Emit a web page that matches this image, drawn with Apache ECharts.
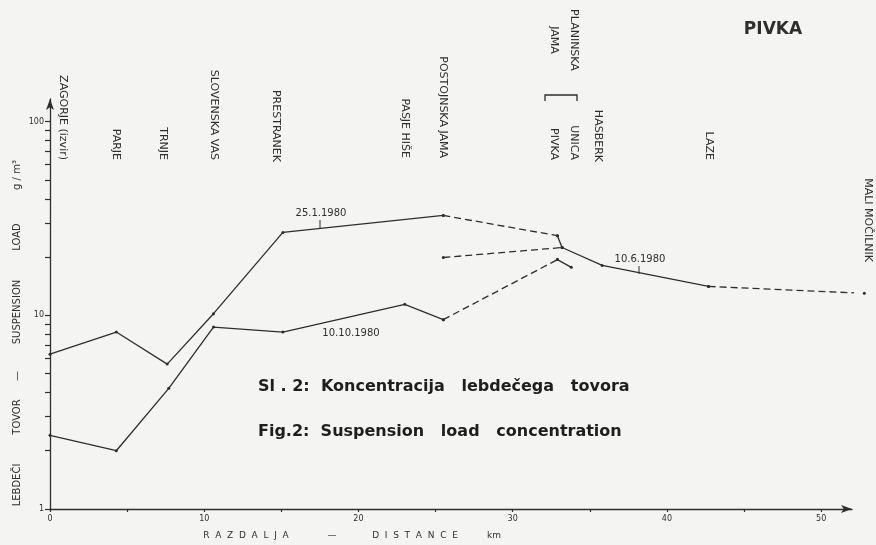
<!DOCTYPE html>
<html>
<head>
<meta charset="utf-8">
<script src="https://cdn.jsdelivr.net/npm/echarts@6/dist/echarts.min.js"></script>
<style>
  html, body { margin: 0; padding: 0; background: #f4f4f2; }
  #chart { width: 876px; height: 545px; }
</style>
</head>
<body>
<div id="chart"></div>
<script>
// stations along the Pivka (km from the source)
const stations = ['ZAGORJE (izvir)', 'PARJE', 'TRNJE', 'SLOVENSKA VAS', 'PRESTRANEK', 'PASJE HIŠE',
  'POSTOJNSKA JAMA', 'PLANINSKA\nJAMA', 'UNICA\nPIVKA', 'HASBERK', 'LAZE', 'MALI MOČILNIK'];
const stationKm = [0, 4.3, 7.6, 10.6, 15.1, 23.0, 25.5, 33.3, 33.3, 35.8, 42.7, 52.8];

// suspension load g/m3, [km, value]
const jan1980 = [[0, 6.3], [4.3, 8.2], [7.6, 5.6], [10.6, 10.2], [15.1, 26.8], [25.5, 32.8]];
const jan1980Cave = [[25.5, 32.8], [32.9, 25.8]];
const jan1980End = [[32.9, 25.8], [33.2, 22.4]];
const jun1980Cave = [[25.5, 19.9], [33.2, 22.4]];
const jun1980 = [[33.2, 22.4], [35.8, 18.1], [42.7, 14.1]];
const jun1980Tail = [[42.7, 14.1], [52.8, 13.0]];
const oct1980 = [[0, 2.4], [4.3, 2.0], [7.7, 4.2], [10.6, 8.7], [15.1, 8.2], [23.0, 11.4], [25.5, 9.5]];
const oct1980Cave = [[25.5, 9.5], [32.9, 19.4]];
const oct1980End = [[32.9, 19.4], [33.8, 17.7]];

// axis ticks
const xTicks = [0, 5, 10, 15, 20, 25, 30, 35, 40, 45, 50];
const xLabels = [0, 10, 20, 30, 40, 50];
const yTicks = [1, 2, 3, 4, 5, 6, 7, 8, 9, 10, 20, 30, 40, 50, 60, 70, 80, 90, 100];
const yLabels = [1, 10, 100];

const ink = '#2e2e2e';

const chart = echarts.init(document.getElementById('chart'));

const lineSeries = (data, dashed) => ({
  type: 'line',
  data: data,
  symbol: 'circle',
  symbolSize: 3,
  clip: false,
  silent: true,
  itemStyle: { color: ink },
  lineStyle: { color: ink, width: 1.3, type: dashed ? [7, 4] : 'solid' }
});

const textEl = (text, x, y, font, rot) => ({
  type: 'text', x: x, y: y, rotation: rot || 0, silent: true,
  style: { text: text, font: font, fill: ink, align: 'center', verticalAlign: 'middle' }
});

const yNamePieces = [['LEBDEČI', 485], ['TOVOR', 417], ['—', 376], ['SUSPENSION', 312], ['LOAD', 237], ['g / m³', 175]];
const xNamePieces = [['R  A  Z  D  A  L  J  A', 246], ['—', 332], ['D  I  S  T  A  N  C  E', 415], ['km', 494]];

const staticGraphic = [
  textEl('PIVKA', 773, 30, 'bold 17px "DejaVu Sans"'),
  { type: 'text', left: 258, top: 379, silent: true,
    style: { text: 'Sl . 2:  Koncentracija   lebdečega   tovora', font: 'bold 16px "DejaVu Sans"', fill: '#1e1e1e' } },
  { type: 'text', left: 258, top: 424, silent: true,
    style: { text: 'Fig.2:  Suspension   load   concentration', font: 'bold 16px "DejaVu Sans"', fill: '#1e1e1e' } },
  textEl('25.1.1980', 321, 213, '10px "DejaVu Sans"'),
  textEl('10.10.1980', 351, 333, '10px "DejaVu Sans"'),
  textEl('10.6.1980', 640, 259, '10px "DejaVu Sans"'),
  { type: 'line', silent: true, shape: { x1: 320, y1: 220, x2: 320, y2: 228 }, style: { stroke: ink, lineWidth: 1 } },
  { type: 'line', silent: true, shape: { x1: 639, y1: 266, x2: 639, y2: 274 }, style: { stroke: ink, lineWidth: 1 } },
  { type: 'polyline', silent: true, shape: { points: [[545, 101], [545, 95], [577, 95], [577, 101]] },
    style: { stroke: ink, lineWidth: 1.3, fill: null } }
];
yNamePieces.forEach(p => staticGraphic.push(textEl(p[0], 17, p[1], '10px "DejaVu Sans"', Math.PI / 2)));
xNamePieces.forEach(p => staticGraphic.push(textEl(p[0], p[1], 536, '9px "DejaVu Sans"')));

chart.setOption({
  backgroundColor: '#f4f4f2',
  animation: false,
  grid: { left: 50, top: 99, width: 802, height: 410 },
  xAxis: {
    type: 'value', min: 0, max: 52,
    axisLine: { lineStyle: { color: ink, width: 1.3 }, symbol: ['none', 'arrow'], symbolSize: [6, 11] },
    axisTick: { customValues: xTicks, length: 3, lineStyle: { color: ink, width: 1.2 } },
    axisLabel: { customValues: xLabels, color: ink, fontSize: 8, margin: 6, fontFamily: 'DejaVu Sans' },
    splitLine: { show: false }
  },
  yAxis: {
    type: 'log', min: 1, max: 131, logBase: 10,
    axisLine: { show: true, lineStyle: { color: ink, width: 1.3 }, symbol: ['none', 'arrow'], symbolSize: [6, 11] },
    axisTick: { show: true, customValues: yTicks, length: 5, lineStyle: { color: ink, width: 1.2 } },
    axisLabel: { customValues: yLabels, color: ink, fontSize: 8, margin: 6, fontFamily: 'DejaVu Sans' },
    splitLine: { show: false }
  },
  graphic: staticGraphic,
  series: [
    lineSeries(jan1980), lineSeries(jan1980Cave, true), lineSeries(jan1980End),
    lineSeries(jun1980Cave, true), lineSeries(jun1980), lineSeries(jun1980Tail, true),
    lineSeries(oct1980), lineSeries(oct1980Cave, true), lineSeries(oct1980End)
  ]
});

// station names, rotated, placed on the x scale
const labelShift = [13, 0, -4, 0, -7, 0, 0, 0, 0, -4, 0, 4];
const labelEnd = [160, 160, 160, 160, 162, 158, 158, 40, 160, 162, 160, 262];
const stationGraphic = stations.map((name, i) => {
  const px = chart.convertToPixel({ gridIndex: 0 }, [stationKm[i], 1]);
  return {
    type: 'text', x: px[0] + labelShift[i], y: labelEnd[i], rotation: -Math.PI / 2, silent: true,
    style: { text: name, font: '11px "DejaVu Sans"', fill: ink, lineHeight: 20,
      align: i === 7 ? 'center' : 'right', verticalAlign: 'middle' }
  };
});
chart.setOption({ graphic: staticGraphic.concat(stationGraphic) });
</script>
</body>
</html>
